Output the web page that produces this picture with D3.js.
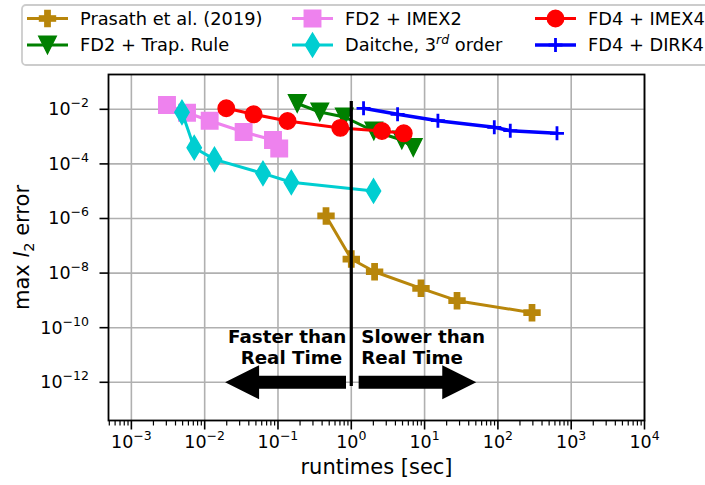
<!DOCTYPE html>
<html><head><meta charset="utf-8">
<script src="https://cdn.jsdelivr.net/npm/d3@7"></script>
<style>body{margin:0;background:#fff}svg{font-family:"DejaVu Sans",sans-serif}</style>
</head><body><svg id="c" width="705" height="485"></svg>
<script>
const xTicks = [1e-3,1e-2,1e-1,1e0,1e1,1e2,1e3,1e4];
const xTickExp = ["−3","−2","−1","0","1","2","3","4"];
const yTicks = [1e-2,1e-4,1e-6,1e-8,1e-10,1e-12];
const yTickExp = ["−2","−4","−6","−8","−10","−12"];

const prasathX = [0.452, 1.0, 2.08, 8.93, 27.7, 292];
const prasathY = [1.24e-6, 3.28e-8, 1.12e-8, 2.77e-9, 9.75e-10, 3.54e-10];
const trapX = [0.183, 0.372, 0.803, 2.03, 4.89, 7.01];
const trapY = [1.63e-2, 7.96e-3, 5.22e-3, 1.6e-3, 7.5e-4, 3.99e-4];
const imex2X = [3.06e-3, 5.74e-3, 0.0117, 0.034, 0.0855, 0.104];
const imex2Y = [1.44e-2, 7.5e-3, 3.82e-3, 1.47e-3, 7.5e-4, 3.66e-4];
const daitcheX = [4.9e-3, 7.2e-3, 0.0136, 0.0624, 0.152, 2.01];
const daitcheY = [7.76e-3, 3.92e-4, 1.47e-4, 4.5e-5, 2.12e-5, 1.02e-5];
const imex4X = [0.0197, 0.0465, 0.135, 0.708, 2.62, 5.2];
const imex4Y = [1.09e-2, 6.56e-3, 3.73e-3, 2.08e-3, 1.6e-3, 1.32e-3];
const dirk4X = [1.47, 4.28, 15.2, 89.3, 147.6, 640];
const dirk4Y = [1.09e-2, 6.56e-3, 3.82e-3, 2.19e-3, 1.65e-3, 1.32e-3];

const seriesNames = ["Prasath et al. (2019)","FD2 + Trap. Rule","FD2 + IMEX2","Daitche, 3rd order","FD4 + IMEX4","FD4 + DIRK4"];

const svg = d3.select("#c");
const L=108.5, R=644.5, T=74.5, B=420.5;
const x = d3.scaleLog().domain([Math.pow(10,-3.312), 1e4]).range([L,R]);
const y = d3.scaleLog().domain([Math.pow(10,-13.4), Math.pow(10,-0.725)]).range([B,T]);

function plusFilled(s){const a=s/6;return `M${-a},${-3*a}H${a}V${-a}H${3*a}V${a}H${a}V${3*a}H${-a}V${a}H${-3*a}V${-a}H${-a}Z`;}
function triDown(s){const h=s/2;return `M${-h},${-h}L${h},${-h}L0,${h}Z`;}
function square(s){const h=s/2;return `M${-h},${-h}H${h}V${h}H${-h}Z`;}
function thinDiamond(s){const h=s/2,w=s*0.3;return `M0,${-h}L${w},0L0,${h}L${-w},0Z`;}
function circle(s){const r=s/2;return `M${r},0A${r},${r} 0 1,1 ${-r},0A${r},${r} 0 1,1 ${r},0Z`;}
function plus(s){const h=s/2;return `M${-h},0H${h}M0,${-h}V${h}`;}

const series = [
 {name:seriesNames[0], xs:prasathX, ys:prasathY, color:"#b8860b", path:plusFilled(16), fill:true, lw:3},
 {name:seriesNames[1], xs:trapX, ys:trapY, color:"#008000", path:triDown(17.5), fill:true, lw:3},
 {name:seriesNames[2], xs:imex2X, ys:imex2Y, color:"#ee82ee", path:square(16.5), fill:true, lw:3},
 {name:seriesNames[3], xs:daitcheX, ys:daitcheY, color:"#00ced1", path:thinDiamond(24), fill:true, lw:3},
 {name:seriesNames[4], xs:imex4X, ys:imex4Y, color:"#ff0000", path:circle(16.5), fill:true, lw:3},
 {name:seriesNames[5], xs:dirk4X, ys:dirk4Y, color:"#0000ff", path:plus(14), fill:false, lw:3.5},
];

const g = svg.append("g");
g.selectAll(".gx").data(xTicks).enter().append("line")
 .attr("x1",d=>x(d)).attr("x2",d=>x(d)).attr("y1",T).attr("y2",B)
 .attr("stroke","#b0b0b0").attr("stroke-width",1.6);
g.selectAll(".gy").data(yTicks).enter().append("line")
 .attr("y1",d=>y(d)).attr("y2",d=>y(d)).attr("x1",L).attr("x2",R)
 .attr("stroke","#b0b0b0").attr("stroke-width",1.6);

const line = d3.line().x(d=>x(d[0])).y(d=>y(d[1]));
series.forEach(s=>{
  const pts = s.xs.map((v,i)=>[v,s.ys[i]]);
  const sg = svg.append("g");
  sg.append("path").attr("d",line(pts)).attr("fill","none").attr("stroke",s.color).attr("stroke-width",s.lw).attr("stroke-linejoin","round");
  sg.selectAll("path.m").data(pts).enter().append("path").attr("class","m")
    .attr("transform",d=>`translate(${x(d[0])},${y(d[1])})`)
    .attr("d",s.path)
    .attr("fill",s.fill?s.color:"none").attr("stroke",s.color)
    .attr("stroke-width",s.fill?1.4:2.8);
});

const rtX = [1];
const rtY = [2e-2, 7.3e-13];
svg.append("line").attr("x1",x(rtX[0])).attr("x2",x(rtX[0])).attr("y1",y(rtY[0])).attr("y2",y(rtY[1]))
 .attr("stroke","#000").attr("stroke-width",3.2);
const arrowY = 1e-12;
const arrowLeft = [0.847, 0.019];
const arrowRight = [1.26, 50.7];
function arrow(x0,x1,yy){
  const dir = Math.sign(x1-x0), hl=34, hw=17, sw=6.5;
  const xb = x1 - dir*hl;
  return `M${x0},${yy-sw}L${xb},${yy-sw}L${xb},${yy-hw}L${x1},${yy}L${xb},${yy+hw}L${xb},${yy+sw}L${x0},${yy+sw}Z`;
}
svg.append("path").attr("d",arrow(x(arrowLeft[0]),x(arrowLeft[1]),y(arrowY))).attr("fill","#000");
svg.append("path").attr("d",arrow(x(arrowRight[0]),x(arrowRight[1]),y(arrowY))).attr("fill","#000");
const tb = svg.append("g").attr("font-weight","bold").attr("font-size",18.3).attr("fill","#000");
tb.append("text").attr("x",x(1)-5).attr("y",343).attr("text-anchor","end").text("Faster than");
tb.append("text").attr("x",x(1)-9).attr("y",364).attr("text-anchor","end").text("Real Time");
tb.append("text").attr("x",x(1)+10).attr("y",343).text("Slower than");
tb.append("text").attr("x",x(1)+10).attr("y",364).text("Real Time");

svg.append("rect").attr("x",L).attr("y",T).attr("width",R-L).attr("height",B-T).attr("fill","none").attr("stroke","#000").attr("stroke-width",1.8);

const xMinor = [];
for(let e=-4;e<4;e++) for(let m=2;m<10;m++){const v=m*Math.pow(10,e); if(v>=x.domain()[0] && v<=1e4) xMinor.push(v);}
svg.selectAll(".xmt").data(xMinor).enter().append("line").attr("x1",d=>x(d)).attr("x2",d=>x(d)).attr("y1",B).attr("y2",B+5).attr("stroke","#000").attr("stroke-width",1.2);
svg.selectAll(".xt").data(xTicks).enter().append("line").attr("x1",d=>x(d)).attr("x2",d=>x(d)).attr("y1",B).attr("y2",B+9).attr("stroke","#000").attr("stroke-width",1.6);
const xl = svg.selectAll(".xl").data(xTicks).enter().append("text").attr("x",d=>x(d)).attr("y",448).attr("text-anchor","middle").attr("font-size",17.5);
xl.append("tspan").text("10");
xl.append("tspan").attr("dy",-8).attr("font-size",12.5).text((d,i)=>xTickExp[i]);

svg.selectAll(".yt").data(yTicks).enter().append("line").attr("y1",d=>y(d)).attr("y2",d=>y(d)).attr("x1",L).attr("x2",L-9).attr("stroke","#000").attr("stroke-width",1.6);
const yl = svg.selectAll(".yl").data(yTicks).enter().append("text").attr("x",89).attr("y",d=>y(d)+6).attr("text-anchor","end").attr("font-size",17.5);
yl.append("tspan").text("10");
yl.append("tspan").attr("dy",-8).attr("font-size",12.5).text((d,i)=>yTickExp[i]);

svg.append("text").attr("x",(L+R)/2).attr("y",474).attr("text-anchor","middle").attr("font-size",21).text("runtimes [sec]");
const ylab = svg.append("text").attr("transform",`translate(29,${(T+B)/2}) rotate(-90)`).attr("text-anchor","middle").attr("font-size",21);
ylab.append("tspan").text("max ");
ylab.append("tspan").attr("font-style","italic").text("l");
ylab.append("tspan").attr("font-size",14.5).attr("dy",5).text("2");
ylab.append("tspan").attr("dy",-5).text(" error");

const lg = svg.append("g");
lg.append("rect").attr("x",22).attr("y",5).attr("width",700).attr("height",60).attr("rx",4).attr("fill","#fff").attr("fill-opacity",0.8).attr("stroke","#cccccc").attr("stroke-width",1.8);
const colX = [27, 292, 535];
const rowY = [18.5, 45];
series.forEach((s,i)=>{
  const cx = colX[Math.floor(i/2)], cy = rowY[i%2];
  const it = lg.append("g");
  it.append("line").attr("x1",cx).attr("x2",cx+41).attr("y1",cy).attr("y2",cy).attr("stroke",s.color).attr("stroke-width",s.lw);
  it.append("path").attr("transform",`translate(${cx+20.5},${cy})`).attr("d",s.path)
    .attr("fill",s.fill?s.color:"none").attr("stroke",s.color).attr("stroke-width",s.fill?1.4:2.8);
  const t = it.append("text").attr("x",cx+53).attr("y",cy+6.3).attr("font-size",17.8);
  if(i===3){
    t.append("tspan").text("Daitche, 3");
    t.append("tspan").attr("dy",-7).attr("font-size",12.5).attr("font-style","italic").text("rd");
    t.append("tspan").attr("dy",7).text(" order");
  } else t.text(s.name);
});
</script></body></html>
